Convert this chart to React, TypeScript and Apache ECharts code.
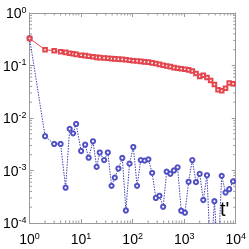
import React, { useEffect, useRef } from 'react';
import * as echarts from 'echarts';

// time lag t'
const T = [1, 2, 3, 4, 5, 6, 7, 8, 10, 12, 14, 17, 20, 23, 28, 33, 39, 45, 53, 63, 74, 87, 103, 122, 144, 171, 202, 239, 282, 331, 391, 458, 539, 634, 745, 877, 1035, 1219, 1439, 1694, 2000, 2350, 2767, 3266, 3864, 4540, 5346, 6339, 7482, 8892];

// red squares
const RED = [0.327, 0.2, 0.191, 0.183, 0.178, 0.171, 0.167, 0.163, 0.157, 0.154, 0.15, 0.147, 0.143, 0.141, 0.139, 0.137, 0.135, 0.134, 0.132, 0.131, 0.129, 0.126, 0.123, 0.122, 0.12, 0.117, 0.116, 0.112, 0.109, 0.105, 0.101, 0.0977, 0.0953, 0.0912, 0.0885, 0.0865, 0.0851, 0.0824, 0.0785, 0.0705, 0.0622, 0.065, 0.059, 0.0518, 0.0435, 0.0346, 0.033, 0.0368, 0.0465, 0.045];

// blue circles (0 = no value, line drops off the log axis)
const BLUE = [0.33, 4.5e-3, 3.2e-3, 3.2e-3, 4.7e-4, 6.2e-3, 5.1e-3, 7.7e-3, 2.35e-3, 3.1e-3, 1.75e-3, 3.6e-3, 1.17e-3, 2.2e-3, 1.58e-3, 2.2e-3, 5.1e-4, 7.3e-4, 1.09e-3, 1.73e-3, 1.73e-4, 1.35e-3, 2.8e-3, 5.1e-4, 1.58e-3, 1.54e-3, 1.63e-3, 9.0e-4, 3.0e-4, 3.3e-4, 2.04e-4, 9.5e-4, 8.65e-4, 1.0e-3, 1.15e-3, 1.71e-4, 1.57e-4, 6.1e-4, 1.58e-3, 6.0e-4, 8.6e-4, 2.74e-4, 8.1e-4, 0, 2.6e-4, 0, 7.9e-4, 3.8e-4, 4.4e-4, 6.2e-4];

const X_MIN = 1;
const X_MAX = 10000;
const Y_MIN = 1e-4;
const Y_MAX = 1;
const ZERO_FLOOR = 2e-5;

const FONT = 'Liberation Sans, Arial, sans-serif';
const AXIS_COLOR = '#9a9a9a';

function minorTicks(lo: number, hi: number): number[] {
  const out: number[] = [];
  for (let d = lo; d < hi; d *= 10) {
    for (let m = 2; m <= 9; m++) out.push(d * m);
  }
  return out;
}

const labelRich = {
  b: { fontSize: 14, fontFamily: FONT, color: '#000' },
  e: { fontSize: 9, fontFamily: FONT, color: '#000', verticalAlign: 'top' as const, padding: [0, 0, 7, 0] },
};

const expFormatter = (v: number) => `{b|10}{e|${Math.round(Math.log10(v))}}`;

export default function App() {
  const ref = useRef<HTMLDivElement>(null);
  useEffect(() => {
    const chart = echarts.init(ref.current!, null, { renderer: 'svg' });
    const xMinor = minorTicks(X_MIN, X_MAX).map((v) => [v, Y_MIN]);
    const yMinor = minorTicks(Y_MIN, Y_MAX).map((v) => [X_MIN, v]);
    const baseAxis = {
      axisLine: { show: true, lineStyle: { color: AXIS_COLOR, width: 1 } },
      axisTick: { show: true, inside: true, length: 4, lineStyle: { color: AXIS_COLOR } },
      splitLine: { show: false },
      minorTick: { show: false },
    };
    chart.setOption({
      animation: false,
      grid: { left: 26, top: 13, right: 12.5, bottom: 26 },
      xAxis: [
        {
          type: 'log', logBase: 10, min: X_MIN, max: X_MAX, position: 'bottom',
          ...baseAxis,
          axisLabel: { formatter: expFormatter, rich: labelRich, margin: 8 },
        },
        {
          type: 'log', logBase: 10, min: X_MIN, max: X_MAX, position: 'top',
          ...baseAxis, axisLabel: { show: false },
        },
      ],
      yAxis: [
        {
          type: 'log', logBase: 10, min: Y_MIN, max: Y_MAX, position: 'left',
          ...baseAxis,
          axisLabel: { formatter: expFormatter, rich: labelRich, margin: 3 },
        },
        {
          type: 'log', logBase: 10, min: Y_MIN, max: Y_MAX, position: 'right',
          ...baseAxis, axisLabel: { show: false },
        },
      ],
      series: [
        {
          type: 'custom', silent: true, clip: false, data: xMinor, z: 1,
          renderItem: (params: any, api: any) => {
            const p = api.coord([api.value(0), api.value(1)]);
            const cs = params.coordSys;
            return {
              type: 'group',
              children: [
                { type: 'line', shape: { x1: p[0], y1: cs.y + cs.height, x2: p[0], y2: cs.y + cs.height - 2.5 }, style: { stroke: AXIS_COLOR, lineWidth: 1 } },
                { type: 'line', shape: { x1: p[0], y1: cs.y, x2: p[0], y2: cs.y + 2.5 }, style: { stroke: AXIS_COLOR, lineWidth: 1 } },
              ],
            };
          },
        },
        {
          type: 'custom', silent: true, clip: false, data: yMinor, z: 1,
          renderItem: (params: any, api: any) => {
            const p = api.coord([api.value(0), api.value(1)]);
            const cs = params.coordSys;
            return {
              type: 'group',
              children: [
                { type: 'line', shape: { x1: cs.x, y1: p[1], x2: cs.x + 2.5, y2: p[1] }, style: { stroke: AXIS_COLOR, lineWidth: 1 } },
                { type: 'line', shape: { x1: cs.x + cs.width, y1: p[1], x2: cs.x + cs.width - 2.5, y2: p[1] }, style: { stroke: AXIS_COLOR, lineWidth: 1 } },
              ],
            };
          },
        },
        {
          type: 'line', name: 'red',
          data: T.map((t, i) => [t, RED[i]]),
          symbol: 'emptyRect', symbolSize: 3.6,
          lineStyle: { color: '#e0343c', width: 0.9 },
          itemStyle: { color: '#e4464e', borderWidth: 0.8 },
          clip: true, z: 3,
        },
        {
          type: 'line', name: 'blue',
          data: T.map((t, i) =>
            BLUE[i] > 0 ? [t, BLUE[i]] : { value: [t, ZERO_FLOOR], symbol: 'none' }
          ),
          symbol: 'emptyCircle', symbolSize: 4.2,
          lineStyle: { color: '#2a2aa8', width: 0.9, type: [1.5, 1.2] },
          itemStyle: { color: '#5050c4', borderWidth: 0.8 },
          clip: true, z: 2,
        },
      ],
      graphic: [
        {
          type: 'text', left: 220, top: 199,
          style: { text: "t'", fontSize: 20, fontFamily: FONT, fill: '#000' },
        },
      ],
    });
    return () => chart.dispose();
  }, []);
  return <div ref={ref} style={{ position: 'fixed', left: 0, top: 0, width: 249, height: 249 }} />;
}
